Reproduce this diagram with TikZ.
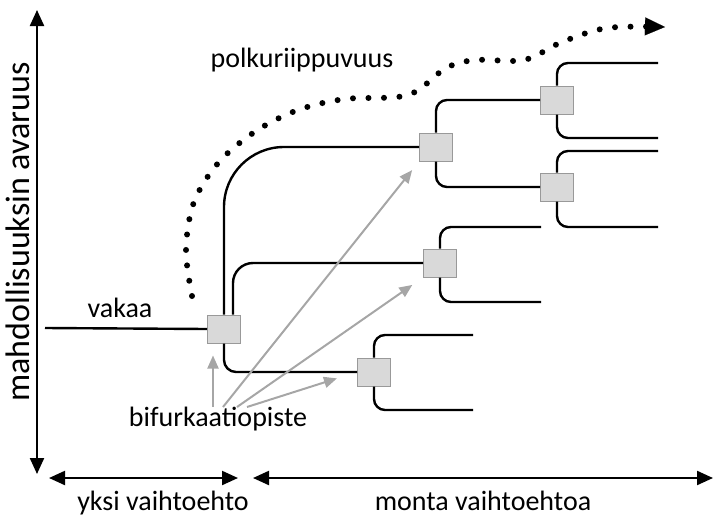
\documentclass[tikz,border=0pt]{standalone}
\usepackage{fontspec}
\setmainfont{Carlito}
\usepackage{tikz}
\usetikzlibrary{arrows.meta}

\begin{document}
\begin{tikzpicture}[
  x=1pt, y=-1pt,
  txt/.style={font=\fontsize{28}{32}\selectfont, inner sep=0pt, anchor=base},
  bif/.style={rectangle, draw=gray!80, line width=1pt, fill=gray!30, minimum width=33pt, minimum height=28pt, inner sep=0pt},
  branch/.style={line width=2.4pt},
  axis/.style={{Triangle[length=16pt,width=14pt]}-{Triangle[length=16pt,width=14pt]}, line width=2.2pt},
  pointer/.style={-{Triangle[length=13pt,width=11pt]}, line width=2pt, draw=gray!70, fill=gray!70},
  pathdots/.style={line width=6pt, line cap=round, dash pattern=on 0pt off 15.5pt, -{Triangle[length=20pt,width=18pt,line width=0.1pt]}}
]
\useasboundingbox (0,0) rectangle (713,517);

% axes
\coordinate (ytop) at (37,10);
\coordinate (ybot) at (37,474);
\coordinate (onel) at (49,478);
\coordinate (oner) at (238,478);
\coordinate (manyl) at (253,478);
\coordinate (manyr) at (713,478);
\draw[axis] (ytop) -- (ybot);
\draw[axis] (onel) -- (oner);
\draw[axis] (manyl) -- (manyr);
\node[txt, rotate=90, font=\fontsize{34}{40}\selectfont] (space) at (29,232) {mahdollisuuksin avaruus};
\node[txt] (one) at (163,510) {yksi vaihtoehto};
\node[txt] (many) at (483,510) {monta vaihtoehtoa};

% bifurcation points
\node[bif] (b1) at (224,329) {};
\node[bif] (b2) at (374,372) {};
\node[bif] (b3) at (440,263) {};
\node[bif] (b4) at (436,147) {};
\node[bif] (b5) at (557,100) {};
\node[bif] (b6) at (557,187) {};

% free branch ends
\coordinate (vin) at (45,328);
\coordinate (e2a) at (473,335);
\coordinate (e2b) at (473,410);
\coordinate (e3a) at (541,227);
\coordinate (e3b) at (541,302);
\coordinate (e5a) at (658,63);
\coordinate (e5b) at (658,138);
\coordinate (e6a) at (658,151);
\coordinate (e6b) at (658,227);

\draw[branch] (vin) -- (b1.west);
\node[txt] (stable) at (120,317) {vakaa};
\draw[branch, rounded corners=60pt] (b1.north) |- (b4.west);
\draw[branch, rounded corners=20pt] ([xshift=9pt]b1.north) |- (b3.west);
\draw[branch, rounded corners=12pt] (b1.south) |- (b2.west);
\draw[branch, rounded corners=11pt] (b2.north) |- (e2a);
\draw[branch, rounded corners=11pt] (b2.south) |- (e2b);
\draw[branch, rounded corners=11pt] (b3.north) |- (e3a);
\draw[branch, rounded corners=11pt] (b3.south) |- (e3b);
\draw[branch, rounded corners=11pt] (b4.north) |- (b5.west);
\draw[branch, rounded corners=11pt] (b4.south) |- (b6.west);
\draw[branch, rounded corners=11pt] (b5.north) |- (e5a);
\draw[branch, rounded corners=11pt] (b5.south) |- (e5b);
\draw[branch, rounded corners=11pt] (b6.north) |- (e6a);
\draw[branch, rounded corners=11pt] (b6.south) |- (e6b);

% path dependence
\node[txt] (polku) at (302,67) {polkuriippuvuus};
\draw[pathdots] plot[smooth, tension=0.55] coordinates {(192,296) (186,250) (194,202) (219,162) (256,131) (298,110) (345,99) (408,95) (446,68) (476,60) (524,60) (562,42) (607,28) (665,27)};

% pointers to bifurcation points
\node[txt] (bifl) at (218,426) {bifurkaatiopiste};
\coordinate (t1) at (213,407);
\coordinate (t2) at (223,407);
\coordinate (t3) at (237,407);
\coordinate (t4) at (247,407);
\draw[pointer, shorten >=12pt] (t1) -- (t1 |- b1.south);
\draw[pointer, shorten >=11pt] (t2) -- (b4.south west);
\draw[pointer, shorten >=13pt] (t3) -- (b3.south west);
\draw[pointer, shorten >=21pt] (t4) -- (b2.west);
\end{tikzpicture}
\end{document}
